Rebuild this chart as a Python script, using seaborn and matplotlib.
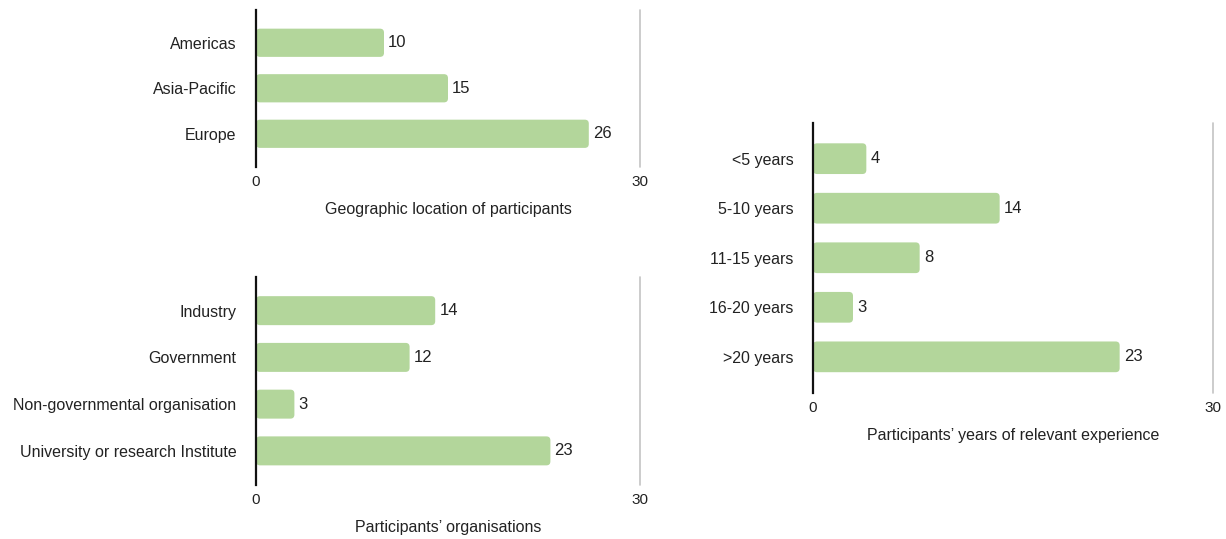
import pandas as pd
import seaborn as sns
import matplotlib.pyplot as plt
from matplotlib.patches import FancyBboxPatch

# chart data
regions = ['Americas', 'Asia-Pacific', 'Europe']
region_counts = [10, 15, 26]

organisations = ['Industry', 'Government', 'Non-governmental organisation',
                 'University or research Institute']
organisation_counts = [14, 12, 3, 23]

experience = ['<5 years', '5-10 years', '11-15 years', '16-20 years', '>20 years']
experience_counts = [4, 14, 8, 3, 23]

BAR_COLOR = '#b3d69b'
TEXT_COLOR = '#222222'

sns.set_style('white')
plt.rcParams['font.family'] = ['Liberation Sans', 'DejaVu Sans']

W, H = 1226, 539
fig = plt.figure(figsize=(W / 100, H / 100), dpi=100)


def px_axes(x0, x1, y0, y1):
    # axes box given in pixel coords of the image (y from top)
    return fig.add_axes([x0 / W, 1 - y1 / H, (x1 - x0) / W, (y1 - y0) / H])


def round_bars(ax, radius_px=4):
    # swap the plain rectangles for rounded ones, same geometry
    bbox = ax.get_window_extent()
    x0, x1 = ax.get_xlim()
    y0, y1 = ax.get_ylim()
    ux = abs(x1 - x0) / bbox.width
    uy = abs(y1 - y0) / bbox.height
    for p in list(ax.patches):
        rb = FancyBboxPatch((p.get_x(), p.get_y()), p.get_width(), p.get_height(),
                            boxstyle=f'round,pad=0,rounding_size={radius_px * ux}',
                            mutation_aspect=uy / ux,
                            facecolor=p.get_facecolor(), edgecolor='none')
        ax.add_patch(rb)
        p.set_visible(False)


def draw_panel(ax, labels, values, title):
    df = pd.DataFrame({'label': labels, 'value': values})
    sns.barplot(data=df, y='label', x='value', orient='h', color=BAR_COLOR,
                width=0.62, saturation=1, ax=ax)
    for c in ax.containers:
        ax.bar_label(c, padding=3, fontsize=12, color=TEXT_COLOR)
    ax.set_xlim(0, 30)
    n = len(labels)
    ax.set_ylim(n - 1 + 0.73, -0.72)
    round_bars(ax)
    ax.set_xticks([0, 30])
    ax.tick_params(axis='x', length=0, pad=6, labelsize=11, colors=TEXT_COLOR)
    ax.tick_params(axis='y', length=0, pad=14, labelsize=11.5, colors=TEXT_COLOR)
    ax.axvline(30, color='#c4c4c4', lw=1.2, clip_on=False)
    for s in ['top', 'right', 'bottom']:
        ax.spines[s].set_visible(False)
    ax.spines['left'].set_color('#111111')
    ax.spines['left'].set_linewidth(1.6)
    ax.set_ylabel('')
    ax.set_xlabel(title, fontsize=11.5, color=TEXT_COLOR, labelpad=9)


ax1 = px_axes(256, 640, 10, 167)
draw_panel(ax1, regions, region_counts, 'Geographic location of participants')

ax2 = px_axes(256, 640, 277, 485)
draw_panel(ax2, organisations, organisation_counts, 'Participants\u2019 organisations')

ax3 = px_axes(813, 1213, 123, 393)
draw_panel(ax3, experience, experience_counts, 'Participants\u2019 years of relevant experience')

fig.savefig('out.png', dpi=100, facecolor='white')
